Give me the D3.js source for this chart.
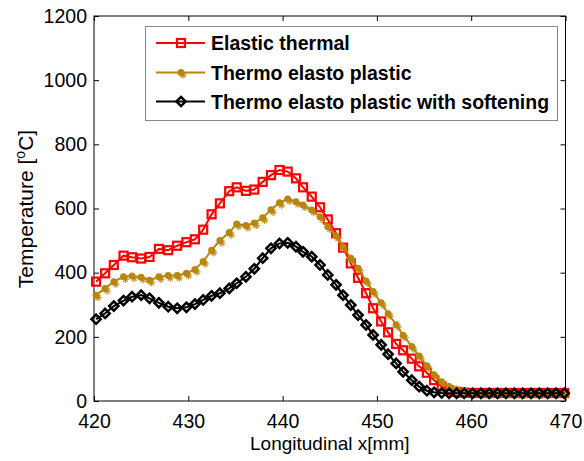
<!DOCTYPE html>
<html><head><meta charset="utf-8">
<script src="https://cdn.jsdelivr.net/npm/d3@7"></script>
<style>
html,body{margin:0;padding:0;background:#fff;}
svg{display:block;font-family:"Liberation Sans",Arial,sans-serif;}
</style></head>
<body>
<svg id="chart" width="584" height="461"></svg>
<script>
// ---- data ----
const xPositions = [420.22,421.18,422.10,423.13,424.04,425.00,425.89,426.88,427.87,428.82,429.80,430.70,431.58,432.47,433.35,434.34,435.13,436.11,437.00,437.89,438.77,439.67,440.54,441.42,442.17,443.09,443.97,444.79,445.67,446.41,447.23,448.00,448.85,449.60,450.45,451.19,452.04,452.78,453.70,454.48,455.30,456.07,456.87,457.66,458.46,459.26,460.14,461.03,461.91,462.79,463.68,464.57,465.45,466.34,467.22,468.10,468.99,469.87];
const elasticThermal = [372,398,424,453,448,444,449,474,470,484,495,504,534,582,616,654,666,655,659,683,704,720,715,694,666,637,604,566,523,478,429,384,336,289,248,214,178,158,132,108,88,65,45,33,28,26,25,25,25,25,25,25,25,25,25,25,25,25];
const thermoElastoPlastic = [330,351,372,387,390,386,376,387,391,391,398,410,435,470,500,525,552,547,555,571,596,618,630,621,611,595,574,543,514,481,445,414,374,341,306,272,238,205,170,140,110,82,60,45,37,32,29,27,26,25,25,25,25,25,25,25,25,25];
const withSoftening = [255,273,296,313,325,330,320,306,294,289,292,302,315,328,336,351,367,387,412,445,476,491,493,481,465,450,424,393,362,330,299,268,237,206,175,146,117,91,65,45,32,27,25,24,24,24,24,24,24,24,24,24,24,24,24,24,24,24];
const seriesNames = ["Elastic thermal","Thermo elasto plastic","Thermo elasto plastic with softening"];
const seriesColors = ["#ff0000","#b8860b","#000000"];
const xTicks = [420,430,440,450,460,470];
const yTicks = [0,200,400,600,800,1000,1200];

const svg = d3.select("#chart");
const L = 94, R = 565.5, T = 16, B = 401;
const x = d3.scaleLinear().domain([420,470]).range([L,R]);
const y = d3.scaleLinear().domain([0,1200]).range([B,T]);

const series = [elasticThermal, thermoElastoPlastic, withSoftening].map((v,i)=>({
  name: seriesNames[i], color: seriesColors[i], pts: v.map((t,j)=>[xPositions[j], t])
}));

// axes
const fs = "19.5px";
const ax = svg.append("g").attr("transform",`translate(0,${B})`)
  .call(d3.axisBottom(x).tickValues(xTicks).tickFormat(d3.format("d")).tickSizeInner(-5).tickSizeOuter(0).tickPadding(13));
const ay = svg.append("g").attr("transform",`translate(${L},0)`)
  .call(d3.axisLeft(y).tickValues(yTicks).tickFormat(d3.format("d")).tickSizeInner(-5).tickSizeOuter(0).tickPadding(7));
const at = svg.append("g").attr("transform",`translate(0,${T})`)
  .call(d3.axisTop(x).tickValues(xTicks).tickSizeInner(-5).tickSizeOuter(0).tickFormat(""));
const ar = svg.append("g").attr("transform",`translate(${R},0)`)
  .call(d3.axisRight(y).tickValues(yTicks).tickSizeInner(-5).tickSizeOuter(0).tickFormat(""));
[ax,ay,at,ar].forEach(g=>{
  g.select(".domain").remove();
  g.selectAll("line").attr("stroke","#000");
  g.selectAll("text").attr("font-size",fs).attr("fill","#000").attr("font-family","Liberation Sans, Arial, sans-serif");
});
svg.append("rect").attr("x",L).attr("y",T).attr("width",R-L).attr("height",B-T)
  .attr("fill","none").attr("stroke","#000").attr("stroke-width",1);

// clip
svg.append("clipPath").attr("id","clip").append("rect")
  .attr("x",L-6).attr("y",T).attr("width",R-L+12).attr("height",B-T+6);
const plot = svg.append("g").attr("clip-path","url(#clip)");

const line = d3.line().x(d=>x(d[0])).y(d=>y(d[1]));

function marker(g, i, cx, cy){
  if(i===0){
    g.append("rect").attr("x",cx-4).attr("y",cy-4).attr("width",8).attr("height",8)
      .attr("fill","none").attr("stroke","#ff0000").attr("stroke-width",2.2);
  } else if(i===1){
    const c="#b8860b";
    const sx=cx+2, sy=cy+2.5, r=3.6;
    [[0,1],[1,0],[0.7,0.7],[0.7,-0.7]].forEach(([a,b])=>{
      g.append("line").attr("x1",sx-a*r).attr("y1",sy-b*r).attr("x2",sx+a*r).attr("y2",sy+b*r)
        .attr("stroke",c).attr("stroke-width",1.3).attr("opacity",0.85);
    });
    g.append("circle").attr("cx",cx).attr("cy",cy).attr("r",3.5).attr("fill",c);
  } else {
    const h=4.6;
    g.append("path").attr("d",`M${cx},${cy-h}L${cx+h},${cy}L${cx},${cy+h}L${cx-h},${cy}Z`)
      .attr("fill","none").attr("stroke","#000").attr("stroke-width",2.5);
  }
}

series.forEach((s,i)=>{
  plot.append("path").datum(s.pts).attr("d",line).attr("fill","none")
    .attr("stroke",s.color).attr("stroke-width",2);
  const mg = plot.append("g");
  s.pts.forEach(p=>marker(mg,i,x(p[0]),y(p[1])));
});

// axis titles
svg.append("text").attr("x",(L+R)/2).attr("y",450).attr("text-anchor","middle")
  .attr("font-size","19px").text("Longitudinal x[mm]");
const yt = svg.append("text").attr("transform","translate(33,209) rotate(-90)")
  .attr("text-anchor","middle").attr("font-size","21px");
yt.append("tspan").text("Temperature [");
yt.append("tspan").attr("font-size","14px").attr("dy","-8").text("o");
yt.append("tspan").attr("dy","8").text("C]");

// legend
const lg = svg.append("g");
lg.append("rect").attr("x",145.5).attr("y",26.5).attr("width",412).attr("height",94)
  .attr("fill","#fff").attr("stroke","#888").attr("stroke-width",1);
const rowY = [43,72.5,101.5];
series.forEach((s,i)=>{
  lg.append("line").attr("x1",156).attr("x2",205).attr("y1",rowY[i]).attr("y2",rowY[i])
    .attr("stroke",s.color).attr("stroke-width",2);
  marker(lg,i,181,rowY[i]);
  lg.append("text").attr("x",211).attr("y",rowY[i]+7).attr("font-size","19.5px")
    .attr("font-weight","bold").attr("fill","#000").text(s.name);
});
</script>
</body></html>
